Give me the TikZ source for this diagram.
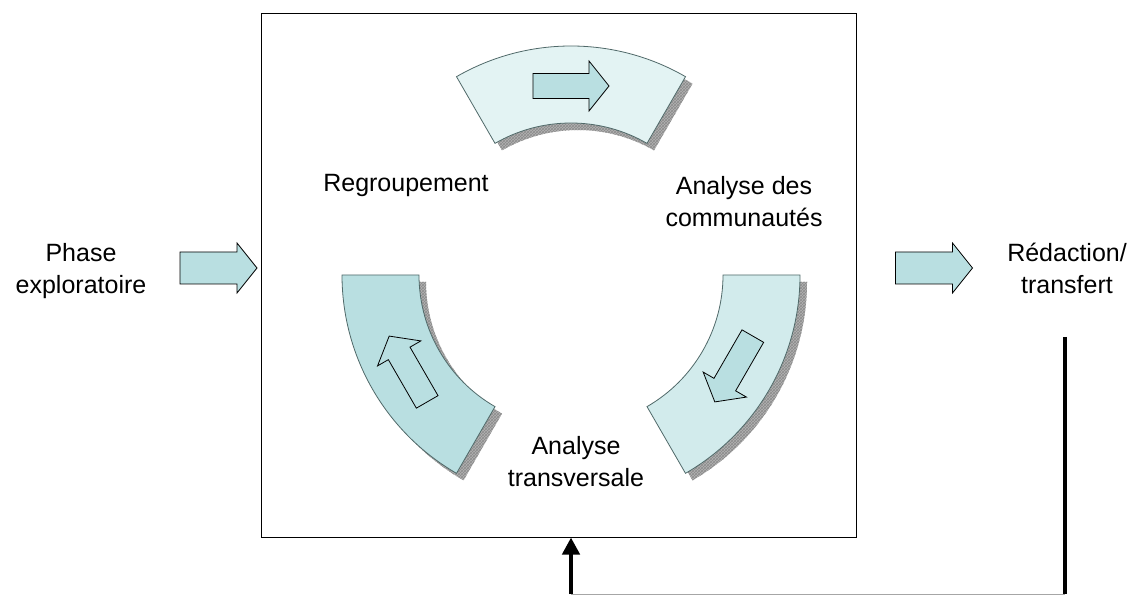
\documentclass[tikz,border=0pt]{standalone}
\usepackage{fontspec}
\setmainfont{Liberation Sans}
\usetikzlibrary{arrows.meta,patterns}
\definecolor{arcA}{RGB}{227,243,243}
\definecolor{arcB}{RGB}{185,223,225}
\definecolor{arcC}{RGB}{210,235,236}
\definecolor{arcline}{RGB}{80,105,105}
\definecolor{shadowgray}{RGB}{178,178,178}
\definecolor{shadowline}{RGB}{140,140,140}
\definecolor{arrfill}{RGB}{185,223,225}
% #1 start angle, #2 end angle, #3 centre coordinate, #4 options
\newcommand{\ringseg}[4]{%
  \path[#4] ([shift={(#1:229pt)}]#3) arc[start angle=#1,end angle=#2,radius=229pt]
    -- ([shift={(#2:152pt)}]#3) arc[start angle=#2,end angle=#1,radius=152pt] -- cycle;}
\begin{document}
\begin{tikzpicture}[x=1pt,y=1pt,
  lbl/.style={font=\fontsize{25}{32}\selectfont, align=center, inner sep=0pt},
  seg/.style={draw=arcline, line width=0.8pt},
  segshadow/.style={preaction={fill=shadowgray}, pattern=crosshatch, pattern color=shadowline},
  inarrow/.pic={\draw[pic actions] (-38,-12.5) -- (18,-12.5) -- (18,-25) -- (38,0) -- (18,25) -- (18,12.5) -- (-38,12.5) -- cycle;},
  sidearrow/.pic={\draw[pic actions] (-38.5,-16) -- (18.5,-16) -- (18.5,-25) -- (38.5,0) -- (18.5,25) -- (18.5,16) -- (-38.5,16) -- cycle;},
  arrstyle/.style={draw=black, line width=0.8pt},
  fbthick/.style={line width=4.5pt},
  fbthin/.style={draw=gray!70, line width=1pt}
]
\useasboundingbox (0,0) rectangle (1129,597);
\fill[white] (0,0) rectangle (1129,597);

% frame
\node[draw, line width=1pt, minimum width=595pt, minimum height=523pt, inner sep=0pt] (box) at (558.5,321.5) {};
\coordinate (C) at (571,322);
\coordinate (Cs) at (578,315);

% shadows
\ringseg{60}{120}{Cs}{segshadow}
\ringseg{180}{240}{Cs}{segshadow}
\ringseg{-60}{0}{Cs}{segshadow}
% segments
\ringseg{60}{120}{C}{seg, fill=arcA}
\ringseg{180}{240}{C}{seg, fill=arcB}
\ringseg{-60}{0}{C}{seg, fill=arcC}

% arrows in segments
\pic[arrstyle, fill=arrfill] at ([shift={(90:189pt)}]C) {inarrow};
\pic[arrstyle, rotate=120] at ([shift={(210:188pt)}]C) {inarrow};
\pic[arrstyle, fill=arrfill, rotate=240] at ([shift={(330:188pt)}]C) {inarrow};

% labels
\node[lbl] (phase) at (81,326) {Phase\\exploratoire};
\node[lbl] (redac) at (1067,329) {Rédaction/\\transfert};
\node[lbl] (regroup) at (406,412) {Regroupement};
\node[lbl] (comm) at (744,395) {Analyse des\\communautés};
\node[lbl] (transv) at (576,135) {Analyse\\transversale};

% side arrows
\pic[arrstyle, fill=arrfill] at (218.5,329) {sidearrow};
\pic[arrstyle, fill=arrfill] at (934,329) {sidearrow};

% feedback connector
\coordinate (fbT) at (1065,260);
\coordinate (fbR) at (1065,3);
\coordinate (fbL) at (571,3);
\draw[fbthick] (fbT) -- (fbR);
\draw[fbthin] (fbR) -- (fbL);
\draw[fbthick, -{Triangle[width=17pt,length=17pt]}] (fbL) -- (fbL |- box.south);
\end{tikzpicture}
\end{document}
